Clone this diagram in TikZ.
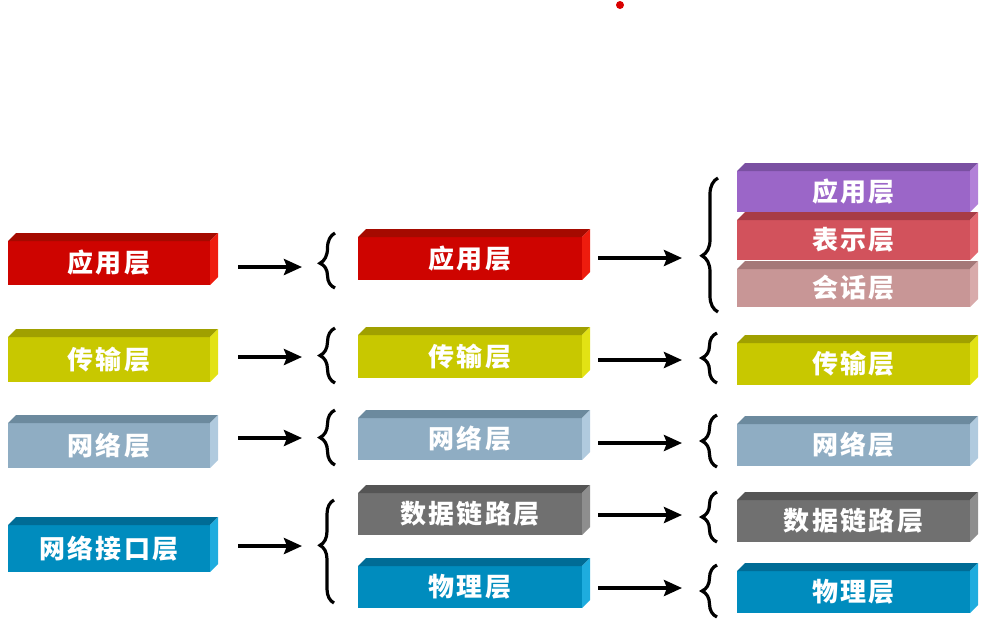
\documentclass[tikz,border=0pt]{standalone}
\usepackage{fontspec}
\newfontfamily\cjk[LetterSpace=9]{Noto Sans CJK SC}
\usetikzlibrary{arrows.meta,decorations.pathreplacing,calc}
\definecolor{redF}{RGB}{206,4,0}\definecolor{redT}{RGB}{165,10,0}\definecolor{redS}{RGB}{238,28,14}
\definecolor{yelF}{RGB}{200,200,0}\definecolor{yelT}{RGB}{160,160,0}\definecolor{yelS}{RGB}{226,226,20}
\definecolor{gbF}{RGB}{143,173,195}\definecolor{gbT}{RGB}{108,138,158}\definecolor{gbS}{RGB}{176,202,222}
\definecolor{blF}{RGB}{0,140,190}\definecolor{blT}{RGB}{0,108,150}\definecolor{blS}{RGB}{30,172,222}
\definecolor{grF}{RGB}{112,112,112}\definecolor{grT}{RGB}{85,85,85}\definecolor{grS}{RGB}{142,142,142}
\definecolor{puF}{RGB}{155,102,200}\definecolor{puT}{RGB}{122,80,162}\definecolor{puS}{RGB}{178,128,216}
\definecolor{roF}{RGB}{210,82,92}\definecolor{roT}{RGB}{168,60,70}\definecolor{roS}{RGB}{226,104,112}
\definecolor{piF}{RGB}{200,150,150}\definecolor{piT}{RGB}{165,120,120}\definecolor{piS}{RGB}{216,170,170}
\tikzset{
  layerbox/.style={inner sep=0pt,outer sep=0pt,text=white,
    font=\cjk\bfseries\fontsize{26}{26}\selectfont},
  arr/.style={line width=3.6pt,-{Stealth[length=18pt,width=16pt,inset=3pt]}},
  bracestyle/.style={line width=3.2pt,decorate},
}
% name, x1, ytop(front), x2, ybottom, colour prefix, text
\newcommand\lay[7]{%
  \node[layerbox,fill=#6F,minimum width={(#4)-(#2)},minimum height={(#5)-(#3)},anchor=north west] (#1) at (#2,#3) {#7};
  \fill[#6T] (#1.north west) -- ++(8,-8) -- ([shift={(8,-8)}]#1.north east) -- (#1.north east) -- cycle;
  \fill[#6S] (#1.north east) -- ++(8,-8) -- ([shift={(8,-8)}]#1.south east) -- (#1.south east) -- cycle;}
% x(right), ytop, ybottom, aspect, amplitude
\newcommand\brc[5]{%
  \draw[bracestyle,decoration={brace,amplitude=#5pt,aspect=#4}] (#1,#3) -- (#1,#2);}
\begin{document}
\begin{tikzpicture}[x=1pt,y=-1pt]
\useasboundingbox (0,0) rectangle (1003,638);
\fill[red!85!black] (620,5) circle (4);
% column 1
\lay{c1a}{8}{241}{210}{285}{red}{应用层}
\lay{c1b}{8}{337}{210}{382}{yel}{传输层}
\lay{c1c}{8}{423}{210}{468}{gb}{网络层}
\lay{c1d}{8}{525}{210}{572}{bl}{网络接口层}
% column 2
\lay{c2a}{358}{237}{582}{280}{red}{应用层}
\lay{c2b}{358}{335}{582}{378}{yel}{传输层}
\lay{c2c}{358}{418}{582}{460}{gb}{网络层}
\lay{c2d}{358}{493}{582}{535}{gr}{数据链路层}
\lay{c2e}{358}{566}{582}{608}{bl}{物理层}
% column 3
\lay{c3a}{737}{171}{970}{212}{pu}{应用层}
\lay{c3b}{737}{220}{970}{260}{ro}{表示层}
\lay{c3c}{737}{269}{970}{307}{pi}{会话层}
\lay{c3d}{737}{343}{970}{385}{yel}{传输层}
\lay{c3e}{737}{424}{970}{466}{gb}{网络层}
\lay{c3f}{737}{500}{970}{542}{gr}{数据链路层}
\lay{c3g}{737}{571}{970}{613}{bl}{物理层}
% braces between columns 1 and 2
\brc{335}{233}{288}{0.45}{15}
\brc{335}{328}{383}{0.5}{15}
\brc{335}{410}{465}{0.5}{15}
\brc{334}{500}{603}{0.56}{14}
% braces before column 3
\brc{718}{178}{312}{0.42}{16}
\brc{717}{333}{383}{0.5}{15}
\brc{717}{415}{467}{0.5}{15}
\brc{717}{492}{542}{0.5}{15}
\brc{717}{565}{617}{0.5}{15}
% arrow end points
\coordinate (e1) at (302,267);
\coordinate (e2) at (302,357);
\coordinate (e3) at (302,438);
\coordinate (e4) at (302,546);
\coordinate (f1) at (682,258);
\coordinate (f2) at (682,360);
\coordinate (f3) at (682,443);
\coordinate (f4) at (682,515);
\coordinate (f5) at (682,588);
\draw[arr] ($(c1a.east|-e1)+(28,0)$) -- (e1);
\draw[arr] ($(c1b.east|-e2)+(28,0)$) -- (e2);
\draw[arr] ($(c1c.east|-e3)+(28,0)$) -- (e3);
\draw[arr] ($(c1d.east|-e4)+(28,0)$) -- (e4);
\draw[arr] ($(c2a.east|-f1)+(16,0)$) -- (f1);
\draw[arr] ($(c2b.east|-f2)+(16,0)$) -- (f2);
\draw[arr] ($(c2c.east|-f3)+(16,0)$) -- (f3);
\draw[arr] ($(c2d.east|-f4)+(16,0)$) -- (f4);
\draw[arr] ($(c2e.east|-f5)+(16,0)$) -- (f5);
\end{tikzpicture}
\end{document}
